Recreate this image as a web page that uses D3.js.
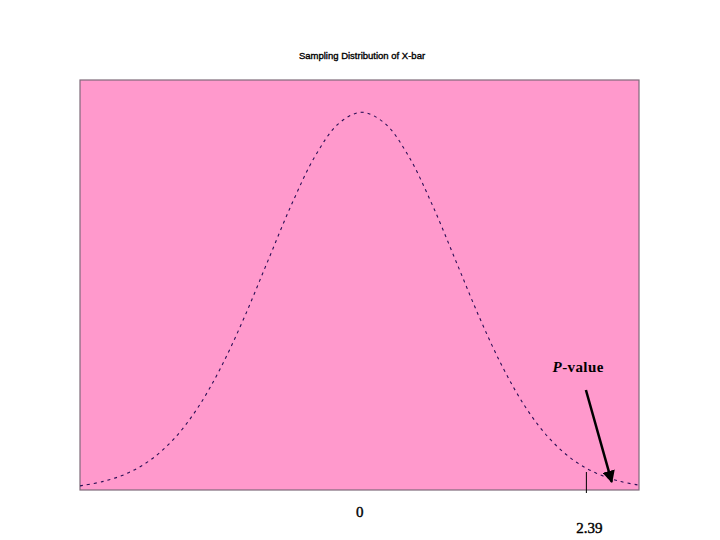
<!DOCTYPE html>
<html lang="en">
<head>
    <meta charset="UTF-8">
    <script src="https://cdn.jsdelivr.net/npm/d3@7"></script>
    <title>Sampling Distribution of X-bar</title>
    <style>
        body { margin: 0; background: #fff; }
        svg { display: block; }
    </style>
</head>
<body>
<svg width="720" height="540"></svg>
<script>
    // z values and the curve heights
    var zValues = [-3.0, -2.75, -2.5, -2.25, -2.0, -1.75, -1.5, -1.25, -1.0, -0.75, -0.5, -0.25,
        0, 0.25, 0.5, 0.75, 1.0, 1.25, 1.5, 1.75, 2.0, 2.25, 2.5, 2.75, 2.95];
    var density = [0.0044, 0.0091, 0.0175, 0.0317, 0.0540, 0.0863, 0.1295, 0.1826, 0.2420, 0.3011, 0.3521, 0.3867,
        0.3989, 0.3867, 0.3521, 0.3011, 0.2420, 0.1826, 0.1295, 0.0863, 0.0540, 0.0317, 0.0175, 0.0091, 0.0051];
    var tickValues = [0, 2.39];
    var tickLabels = ["0", "2.39"];
    var titleText = "Sampling Distribution of X-bar";

    var svg = d3.select("svg");
    var plot = {left: 80, top: 80, right: 639, bottom: 490};

    var x = d3.scaleLinear().domain([-3.0, 2.95]).range([plot.left, plot.right]);
    var y = d3.scaleLinear().domain([0, 0.433]).range([plot.bottom, plot.top]);

    svg.append("text")
        .attr("x", 362)
        .attr("y", 59)
        .attr("text-anchor", "middle")
        .attr("font-family", "Liberation Sans, Arial, sans-serif")
        .attr("font-size", 9.5)
        .attr("fill", "#000")
        .attr("stroke", "#000")
        .attr("stroke-width", 0.35)
        .text(titleText);

    svg.append("rect")
        .attr("x", plot.left)
        .attr("y", plot.top)
        .attr("width", plot.right - plot.left)
        .attr("height", plot.bottom - plot.top)
        .attr("fill", "#ff99cc")
        .attr("stroke", "#7f6a7a")
        .attr("stroke-width", 1.2);

    var pts = zValues.map(function (z, i) {
        return [z, density[i]];
    });

    var line = d3.line()
        .x(function (d) { return x(d[0]); })
        .y(function (d) { return y(d[1]); })
        .curve(d3.curveCatmullRom);

    svg.append("path")
        .datum(pts)
        .attr("d", line)
        .attr("fill", "none")
        .attr("stroke", "#2a0f55")
        .attr("stroke-width", 1.1)
        .attr("stroke-dasharray", "3,4");

    // observed value tick
    svg.append("line")
        .attr("x1", x(2.39)).attr("x2", x(2.39))
        .attr("y1", y(0.019)).attr("y2", plot.bottom + 3)
        .attr("stroke", "#000")
        .attr("stroke-width", 1);

    svg.selectAll("text.tick")
        .data(tickValues)
        .enter()
        .append("text")
        .attr("class", "tick")
        .attr("x", function (d) { return x(d) + (d === 0 ? -2 : 3); })
        .attr("y", function (d, i) { return i === 0 ? 517 : 533; })
        .attr("text-anchor", "middle")
        .attr("font-family", "Liberation Serif, Times New Roman, serif")
        .attr("font-size", 15)
        .attr("fill", "#000")
        .attr("stroke", "#000")
        .attr("stroke-width", 0.4)
        .text(function (d, i) { return tickLabels[i]; });

    // P-value annotation
    var label = svg.append("text")
        .attr("x", x(2.03))
        .attr("y", y(0.1246))
        .attr("font-family", "Liberation Serif, Times New Roman, serif")
        .attr("font-size", 15)
        .attr("font-weight", "bold")
        .attr("letter-spacing", 0.4)
        .attr("fill", "#000");
    label.append("tspan").attr("font-style", "italic").text("P");
    label.append("tspan").text("-value");

    svg.append("defs").append("marker")
        .attr("id", "head")
        .attr("viewBox", "0 0 10 10")
        .attr("refX", 9)
        .attr("refY", 5)
        .attr("markerWidth", 5)
        .attr("markerHeight", 5)
        .attr("orient", "auto")
        .append("path")
        .attr("d", "M0,0 L10,5 L0,10 Z")
        .attr("fill", "#000");

    svg.append("line")
        .attr("x1", x(2.385)).attr("y1", y(0.1056))
        .attr("x2", x(2.66)).attr("y2", y(0.0085))
        .attr("stroke", "#000")
        .attr("stroke-width", 2.5)
        .attr("marker-end", "url(#head)");
</script>
</body>
</html>
